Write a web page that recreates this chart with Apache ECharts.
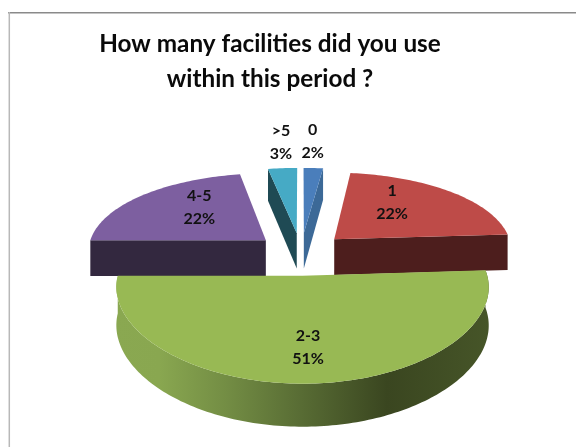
<!DOCTYPE html>
<html>
<head>
<meta charset="utf-8">
<style>html,body{margin:0;padding:0;background:#fff}#c{width:576px;height:447px}</style>
<script src="https://cdn.jsdelivr.net/npm/echarts@6/dist/echarts.min.js"></script>
</head>
<body>
<div id="c"></div>
<script>
var categories = ['0', '1', '2-3', '4-5', '>5'];
var values = [2, 22, 51, 22, 3];
var topColors = ['#4a7ebb', '#be4b48', '#98b954', '#7d5fa0', '#46aac5'];
var sideColors = ['#3c6997', '#4d1e1d', null, '#33283f', '#1f4a54'];
var titleText = 'How many facilities did you use\nwithin this period ?';

// view of the tilted, exploded disc
var CX = 301, CY = 253.5, RX = 179, RY = 82, PERSP = 0.164, PERSP_X = 0.12, EXPLODE = 0.26, DEPTH = 36.5, DEPTH_PERSP = 0.12;
// label nudges relative to the slice's projected anchor
var labelNudge = [[-5, 2.5], [-16, -6.5], [2, 17], [12, -4], [5, 2.5]];
var labelAnchorR = [1.55, 0.62, 0.55, 0.62, 1.55];
var total = values.reduce(function (a, b) { return a + b; }, 0);

function project(u, v, down) {
  var h = down ? DEPTH / (1 + DEPTH_PERSP * v) : 0;
  return [CX + RX * u / (1 + PERSP_X * v), CY - RY * v / (1 + PERSP * v) + h];
}
function sliceGeom(i) {
  var before = 0;
  for (var k = 0; k < i; k++) before += values[k];
  var a0 = before / total * Math.PI * 2;
  var a1 = (before + values[i]) / total * Math.PI * 2;
  var mid = (a0 + a1) / 2;
  return { a0: a0, a1: a1, mid: mid, ou: EXPLODE * Math.sin(mid), ov: EXPLODE * Math.cos(mid) };
}
function rim(g, from, to, down) {
  var n = Math.max(2, Math.ceil(Math.abs(to - from) / 0.02)), pts = [];
  for (var j = 0; j <= n; j++) {
    var t = from + (to - from) * j / n;
    pts.push(project(g.ou + Math.sin(t), g.ov + Math.cos(t), down));
  }
  return pts;
}
function radialFace(g, ang, fill, z) {
  var cu = g.ou + Math.sin(ang), cv = g.ov + Math.cos(ang);
  return {
    type: 'polygon', z2: z,
    shape: { points: [project(g.ou, g.ov), project(cu, cv), project(cu, cv, true), project(g.ou, g.ov, true)] },
    style: { fill: fill }
  };
}
function renderItem(params, api) {
  var i = params.dataIndex, g = sliceGeom(i), kids = [];
  var base = categories[i] === '2-3' ? 10 : 1;
  if (g.a0 < Math.PI && g.a1 > Math.PI) {
    // large front slice: outer wall
    var top = rim(g, g.a0, g.a1), bottom = rim(g, g.a0, g.a1, true).reverse();
    kids.push({
      type: 'polygon', z2: base,
      shape: { points: top.concat(bottom) },
      style: { fill: { type: 'linear', x: 114, y: 0, x2: 488, y2: 0, global: true, colorStops: [
        { offset: 0, color: '#8aa851' }, { offset: 0.12, color: '#89a750' }, { offset: 0.3, color: '#738d44' },
        { offset: 0.5, color: '#586c34' }, { offset: 0.73, color: '#3a4620' }, { offset: 1, color: '#465528' }] } }
    });
  } else if (g.mid < Math.PI) {
    kids.push(radialFace(g, g.a1, sideColors[i], base));
  } else {
    kids.push(radialFace(g, g.a0, sideColors[i], base));
  }
  kids.push({
    type: 'polygon', z2: base + 1,
    shape: { points: [project(g.ou, g.ov)].concat(rim(g, g.a0, g.a1)) },
    style: { fill: topColors[i] }
  });
  var r = labelAnchorR[i];
  var p = project(g.ou + r * Math.sin(g.mid), g.ov + r * Math.cos(g.mid));
  var pct = Math.round(api.value(0) / total * 100) + '%';
  kids.push({
    type: 'text', z2: 20,
    x: p[0] + labelNudge[i][0], y: p[1] + labelNudge[i][1],
    style: {
      text: categories[i] + '\n' + pct, fill: '#111', align: 'center', verticalAlign: 'middle',
      font: 'bold 16px Lato', lineHeight: 23
    }
  });
  return { type: 'group', children: kids };
}
var chart = echarts.init(document.getElementById('c'), null, { renderer: 'canvas' });
chart.setOption({
  animation: false,
  backgroundColor: '#ffffff',
  title: {
    text: titleText, left: 265, top: 22, textAlign: 'center',
    textStyle: { fontFamily: 'Lato', fontWeight: 'bold', fontSize: 24.3, lineHeight: 35, color: '#0a0a0a' }
  },
  graphic: [
    { type: 'line', silent: true, shape: { x1: 8, y1: 12.7, x2: 576, y2: 12.7 }, style: { stroke: '#8a8a8a', lineWidth: 1.5 } },
    { type: 'line', silent: true, shape: { x1: 9.3, y1: 12, x2: 9.3, y2: 447 }, style: { stroke: '#b8b8b8', lineWidth: 1.5 } }
  ],
  series: [{
    type: 'custom', coordinateSystem: 'none', renderItem: renderItem, silent: true,
    data: values.map(function (v, i) { return { name: categories[i], value: [v] }; })
  }]
});
</script>
</body>
</html>
